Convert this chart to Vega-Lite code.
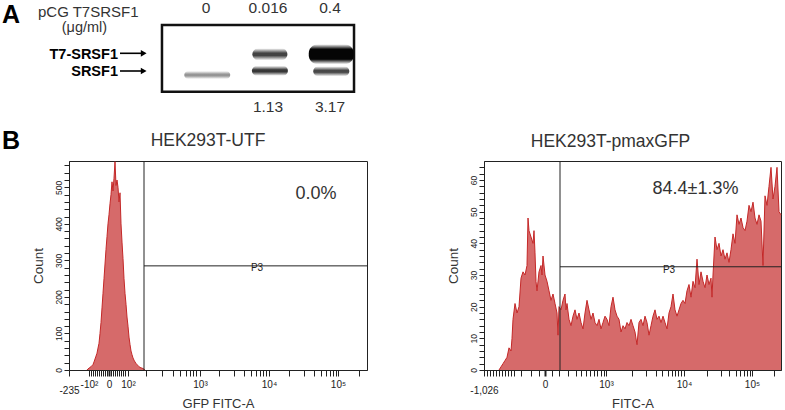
{
  "$schema": "https://vega.github.io/schema/vega-lite/v6.json",
  "background": "white",
  "padding": {"left": 2, "top": 0, "right": 3, "bottom": 0},
  "config": {
    "font": "Liberation Sans",
    "view": {"stroke": null},
    "axis": {"grid": false, "labelFont": "Liberation Sans", "titleFont": "Liberation Sans"},
    "title": {"font": "Liberation Sans"}
  },
  "datasets": {
    "lanes": [
      {"lane": 1, "dose": "0", "ratio": ""},
      {"lane": 2, "dose": "0.016", "ratio": "1.13"},
      {"lane": 3, "dose": "0.4", "ratio": "3.17"}
    ],
    "bands": [
      {"lane": 1.02, "band": "SRSF1", "migration": 75, "signal": 0.45},
      {"lane": 2.03, "band": "T7-SRSF1", "migration": 54.3, "signal": 0.8},
      {"lane": 2.03, "band": "SRSF1", "migration": 70.8, "signal": 0.85},
      {"lane": 3.02, "band": "T7-SRSF1", "migration": 54.2, "signal": 1.0},
      {"lane": 3.02, "band": "SRSF1", "migration": 71.3, "signal": 0.78}
    ],
    "markers": [
      {"band": "T7-SRSF1", "migration": 53.3},
      {"band": "SRSF1", "migration": 71}
    ],
    "utf": [
      {"channel": 18, "count": 0}, {"channel": 19, "count": 3}, {"channel": 20, "count": 5}, {"channel": 21, "count": 7},
      {"channel": 22, "count": 9}, {"channel": 23, "count": 12}, {"channel": 24, "count": 15}, {"channel": 25, "count": 22},
      {"channel": 26, "count": 30}, {"channel": 27, "count": 38}, {"channel": 28, "count": 46}, {"channel": 29, "count": 60},
      {"channel": 30, "count": 73}, {"channel": 31, "count": 100}, {"channel": 32, "count": 130}, {"channel": 33, "count": 170},
      {"channel": 34, "count": 210}, {"channel": 35, "count": 250}, {"channel": 36, "count": 290}, {"channel": 37, "count": 330},
      {"channel": 38, "count": 365}, {"channel": 39, "count": 400}, {"channel": 40, "count": 425}, {"channel": 41, "count": 455},
      {"channel": 42, "count": 480}, {"channel": 43, "count": 515}, {"channel": 44, "count": 490}, {"channel": 45, "count": 525},
      {"channel": 46, "count": 570}, {"channel": 47, "count": 505}, {"channel": 48, "count": 520}, {"channel": 49, "count": 500},
      {"channel": 50, "count": 460}, {"channel": 51, "count": 485}, {"channel": 52, "count": 400}, {"channel": 53, "count": 350},
      {"channel": 54, "count": 305}, {"channel": 55, "count": 250}, {"channel": 56, "count": 210}, {"channel": 57, "count": 180},
      {"channel": 58, "count": 145}, {"channel": 59, "count": 120}, {"channel": 60, "count": 90}, {"channel": 61, "count": 70},
      {"channel": 62, "count": 52}, {"channel": 63, "count": 42}, {"channel": 64, "count": 33}, {"channel": 65, "count": 27},
      {"channel": 66, "count": 22}, {"channel": 67, "count": 18}, {"channel": 68, "count": 15}, {"channel": 69, "count": 12},
      {"channel": 70, "count": 9}, {"channel": 71, "count": 7}, {"channel": 72, "count": 6}, {"channel": 73, "count": 5},
      {"channel": 74, "count": 4}, {"channel": 75, "count": 2}, {"channel": 76, "count": 0}
    ],
    "gfp": [
      {"channel": 15, "count": 0}, {"channel": 17, "count": 1}, {"channel": 19, "count": 2}, {"channel": 21, "count": 3},
      {"channel": 23, "count": 4}, {"channel": 25, "count": 7}, {"channel": 27, "count": 6}, {"channel": 28, "count": 10},
      {"channel": 29, "count": 16}, {"channel": 31, "count": 21}, {"channel": 33, "count": 18}, {"channel": 35, "count": 20},
      {"channel": 37, "count": 29}, {"channel": 39, "count": 31}, {"channel": 41, "count": 30}, {"channel": 43, "count": 33},
      {"channel": 44, "count": 48}, {"channel": 45, "count": 44}, {"channel": 47, "count": 42}, {"channel": 49, "count": 40},
      {"channel": 50, "count": 44}, {"channel": 51, "count": 37}, {"channel": 52, "count": 28}, {"channel": 53, "count": 25},
      {"channel": 55, "count": 31}, {"channel": 57, "count": 33}, {"channel": 58, "count": 30}, {"channel": 59, "count": 36},
      {"channel": 61, "count": 30}, {"channel": 63, "count": 28}, {"channel": 65, "count": 25}, {"channel": 67, "count": 22},
      {"channel": 69, "count": 24}, {"channel": 71, "count": 21}, {"channel": 73, "count": 18}, {"channel": 74, "count": 11},
      {"channel": 75, "count": 20}, {"channel": 77, "count": 19}, {"channel": 79, "count": 22}, {"channel": 81, "count": 24},
      {"channel": 82, "count": 19}, {"channel": 83, "count": 21}, {"channel": 85, "count": 16}, {"channel": 87, "count": 14},
      {"channel": 89, "count": 17}, {"channel": 91, "count": 19}, {"channel": 93, "count": 16}, {"channel": 95, "count": 18},
      {"channel": 97, "count": 15}, {"channel": 99, "count": 13}, {"channel": 101, "count": 18}, {"channel": 103, "count": 22},
      {"channel": 105, "count": 19}, {"channel": 107, "count": 16}, {"channel": 109, "count": 18}, {"channel": 111, "count": 15},
      {"channel": 113, "count": 14}, {"channel": 115, "count": 16}, {"channel": 117, "count": 13}, {"channel": 119, "count": 15},
      {"channel": 121, "count": 17}, {"channel": 123, "count": 16}, {"channel": 125, "count": 14}, {"channel": 127, "count": 20},
      {"channel": 129, "count": 23}, {"channel": 131, "count": 19}, {"channel": 133, "count": 17}, {"channel": 135, "count": 16},
      {"channel": 137, "count": 12}, {"channel": 139, "count": 14}, {"channel": 141, "count": 13}, {"channel": 143, "count": 15},
      {"channel": 145, "count": 14}, {"channel": 147, "count": 16}, {"channel": 149, "count": 14}, {"channel": 151, "count": 12},
      {"channel": 153, "count": 8}, {"channel": 155, "count": 15}, {"channel": 157, "count": 16}, {"channel": 159, "count": 14},
      {"channel": 161, "count": 17}, {"channel": 163, "count": 15}, {"channel": 165, "count": 11}, {"channel": 167, "count": 14},
      {"channel": 169, "count": 17}, {"channel": 171, "count": 19}, {"channel": 173, "count": 16}, {"channel": 175, "count": 17},
      {"channel": 177, "count": 15}, {"channel": 179, "count": 17}, {"channel": 181, "count": 15}, {"channel": 183, "count": 13},
      {"channel": 185, "count": 18}, {"channel": 187, "count": 20}, {"channel": 189, "count": 24}, {"channel": 191, "count": 19},
      {"channel": 193, "count": 17}, {"channel": 195, "count": 19}, {"channel": 197, "count": 21}, {"channel": 199, "count": 22},
      {"channel": 201, "count": 21}, {"channel": 203, "count": 25}, {"channel": 205, "count": 27}, {"channel": 207, "count": 23},
      {"channel": 209, "count": 28}, {"channel": 211, "count": 26}, {"channel": 213, "count": 35}, {"channel": 215, "count": 27},
      {"channel": 217, "count": 31}, {"channel": 219, "count": 28}, {"channel": 221, "count": 26}, {"channel": 223, "count": 30},
      {"channel": 225, "count": 27}, {"channel": 227, "count": 29}, {"channel": 228, "count": 23}, {"channel": 229, "count": 30},
      {"channel": 231, "count": 42}, {"channel": 233, "count": 38}, {"channel": 235, "count": 40}, {"channel": 237, "count": 36},
      {"channel": 239, "count": 38}, {"channel": 241, "count": 35}, {"channel": 243, "count": 37}, {"channel": 245, "count": 34},
      {"channel": 247, "count": 38}, {"channel": 249, "count": 43}, {"channel": 251, "count": 40}, {"channel": 253, "count": 49},
      {"channel": 255, "count": 46}, {"channel": 257, "count": 48}, {"channel": 259, "count": 45}, {"channel": 261, "count": 44},
      {"channel": 263, "count": 47}, {"channel": 265, "count": 52}, {"channel": 267, "count": 50}, {"channel": 269, "count": 53},
      {"channel": 271, "count": 48}, {"channel": 273, "count": 46}, {"channel": 275, "count": 49}, {"channel": 277, "count": 47},
      {"channel": 279, "count": 33}, {"channel": 281, "count": 55}, {"channel": 283, "count": 52}, {"channel": 285, "count": 58},
      {"channel": 287, "count": 64}, {"channel": 289, "count": 54}, {"channel": 291, "count": 58}, {"channel": 293, "count": 64},
      {"channel": 295, "count": 50}, {"channel": 297, "count": 49}
    ]
  },
  "spacing": 11,
  "vconcat": [
    {
      "width": 378,
      "height": 118,
      "layer": [
        {
          "data": {"values": [{}]},
          "mark": {"type": "rect", "filled": false, "color": "#111", "strokeWidth": 2.5},
          "encoding": {
            "x": {"datum": 0.29, "type": "quantitative", "scale": {"domain": [-2.29, 3.806], "nice": false, "zero": false}, "axis": null},
            "x2": {"datum": 3.387},
            "y": {"datum": 25, "type": "quantitative", "scale": {"domain": [0, 118], "reverse": true, "nice": false, "zero": false}, "axis": null},
            "y2": {"datum": 91.7}
          }
        },
        {
          "data": {"name": "bands"},
          "transform": [{"filter": "datum.lane < 1.5"}],
          "mark": {"type": "rect", "width": 46, "height": 8, "cornerRadius": 4,
            "color": {"gradient": "linear", "x1": 0, "y1": 0, "x2": 0, "y2": 1, "stops": [{"offset": 0, "color": "rgba(20,20,20,0)"}, {"offset": 0.4, "color": "#141414"}, {"offset": 0.6, "color": "#141414"}, {"offset": 1, "color": "rgba(20,20,20,0)"}]}},
          "encoding": {
            "x": {"field": "lane", "type": "quantitative", "axis": null},
            "y": {"field": "migration", "type": "quantitative", "axis": null},
            "opacity": {"field": "signal", "type": "quantitative", "scale": {"domain": [0, 1], "range": [0, 1]}, "legend": null}
          }
        },
        {
          "data": {"name": "bands"},
          "transform": [{"filter": "datum.lane > 1.5 && datum.band === 'SRSF1'"}],
          "mark": {"type": "rect", "width": 36, "height": 10, "cornerRadius": 5,
            "color": {"gradient": "linear", "x1": 0, "y1": 0, "x2": 0, "y2": 1, "stops": [{"offset": 0, "color": "rgba(20,20,20,0)"}, {"offset": 0.4, "color": "#141414"}, {"offset": 0.6, "color": "#141414"}, {"offset": 1, "color": "rgba(20,20,20,0)"}]}},
          "encoding": {
            "x": {"field": "lane", "type": "quantitative", "axis": null},
            "y": {"field": "migration", "type": "quantitative", "axis": null},
            "opacity": {"field": "signal", "type": "quantitative", "scale": {"domain": [0, 1], "range": [0, 1]}, "legend": null}
          }
        },
        {
          "data": {"name": "bands"},
          "transform": [{"filter": "datum.lane > 1.5 && datum.lane < 2.5 && datum.band === 'T7-SRSF1'"}],
          "mark": {"type": "rect", "width": 35, "height": 12, "cornerRadius": 6,
            "color": {"gradient": "linear", "x1": 0, "y1": 0, "x2": 0, "y2": 1, "stops": [{"offset": 0, "color": "rgba(20,20,20,0)"}, {"offset": 0.4, "color": "#141414"}, {"offset": 0.6, "color": "#141414"}, {"offset": 1, "color": "rgba(20,20,20,0)"}]}},
          "encoding": {
            "x": {"field": "lane", "type": "quantitative", "axis": null},
            "y": {"field": "migration", "type": "quantitative", "axis": null},
            "opacity": {"field": "signal", "type": "quantitative", "scale": {"domain": [0, 1], "range": [0, 1]}, "legend": null}
          }
        },
        {
          "data": {"name": "bands"},
          "transform": [{"filter": "datum.lane > 2.5 && datum.band === 'T7-SRSF1'"}],
          "mark": {"type": "rect", "width": 45, "height": 20, "cornerRadius": 9,
            "color": {"gradient": "linear", "x1": 0, "y1": 0, "x2": 0, "y2": 1, "stops": [{"offset": 0, "color": "rgba(5,5,5,0)"}, {"offset": 0.25, "color": "#050505"}, {"offset": 0.75, "color": "#050505"}, {"offset": 1, "color": "rgba(5,5,5,0)"}]}},
          "encoding": {
            "x": {"field": "lane", "type": "quantitative", "axis": null},
            "y": {"field": "migration", "type": "quantitative", "axis": null},
            "opacity": {"field": "signal", "type": "quantitative", "scale": {"domain": [0, 1], "range": [0, 1]}, "legend": null}
          }
        },
        {
          "data": {"name": "markers"},
          "mark": {"type": "text", "align": "right", "baseline": "alphabetic", "dy": 5.2, "fontSize": 14.5, "fontWeight": "bold", "color": "#000"},
          "encoding": {
            "x": {"datum": -0.42, "type": "quantitative", "axis": null},
            "y": {"field": "migration", "type": "quantitative", "axis": null},
            "text": {"field": "band"}
          }
        },
        {
          "data": {"name": "markers"},
          "mark": {"type": "rule", "strokeWidth": 1.6, "color": "#000"},
          "encoding": {
            "x": {"datum": -0.387, "type": "quantitative", "axis": null},
            "x2": {"datum": -0.03},
            "y": {"field": "migration", "type": "quantitative", "axis": null}
          }
        },
        {
          "data": {"name": "markers"},
          "mark": {"type": "point", "shape": "triangle-right", "size": 45, "filled": true, "opacity": 1, "color": "#000"},
          "encoding": {
            "x": {"datum": -0.005, "type": "quantitative", "axis": null},
            "y": {"field": "migration", "type": "quantitative", "axis": null}
          }
        },
        {
          "data": {"name": "lanes"},
          "mark": {"type": "text", "align": "center", "baseline": "alphabetic", "fontSize": 15.5, "color": "#333"},
          "encoding": {
            "x": {"field": "lane", "type": "quantitative", "axis": null},
            "y": {"datum": 13, "type": "quantitative", "axis": null},
            "text": {"field": "dose"}
          }
        },
        {
          "data": {"name": "lanes"},
          "mark": {"type": "text", "align": "center", "baseline": "alphabetic", "fontSize": 15.5, "color": "#333"},
          "encoding": {
            "x": {"field": "lane", "type": "quantitative", "axis": null},
            "y": {"datum": 111.7, "type": "quantitative", "axis": null},
            "text": {"field": "ratio"}
          }
        },
        {
          "data": {"values": [{}]},
          "mark": {"type": "text", "text": "A", "align": "left", "baseline": "alphabetic", "fontSize": 25, "fontWeight": "bold", "color": "#000"},
          "encoding": {
            "x": {"datum": -2.29, "type": "quantitative", "axis": null},
            "y": {"datum": 23, "type": "quantitative", "axis": null}
          }
        },
        {
          "data": {"values": [{}]},
          "mark": {"type": "text", "text": "pCG T7SRSF1", "align": "left", "baseline": "alphabetic", "fontSize": 15, "color": "#333"},
          "encoding": {
            "x": {"datum": -1.71, "type": "quantitative", "axis": null},
            "y": {"datum": 16.5, "type": "quantitative", "axis": null}
          }
        },
        {
          "data": {"values": [{}]},
          "mark": {"type": "text", "text": "(μg/ml)", "align": "center", "baseline": "alphabetic", "fontSize": 14.5, "color": "#333"},
          "encoding": {
            "x": {"datum": -0.96, "type": "quantitative", "axis": null},
            "y": {"datum": 32, "type": "quantitative", "axis": null}
          }
        }
      ]
    },
    {
      "spacing": 77,
      "hconcat": [
        {
          "spacing": 8,
          "hconcat": [
            {
              "width": 20,
              "height": 209,
              "title": {"text": "B", "fontSize": 25, "fontWeight": "bold", "color": "#000", "anchor": "start", "frame": "group", "offset": 7},
              "data": {"values": []},
              "mark": "point"
            },
            {
              "width": 298,
              "height": 209,
              "view": {"stroke": "#222", "strokeWidth": 1},
              "title": {"text": "HEK293T-UTF", "fontSize": 17.5, "fontWeight": "normal", "color": "#333", "anchor": "middle", "frame": "group", "dx": -10, "offset": 10},
              "resolve": {"axis": {"x": "independent", "y": "independent"}},
              "layer": [
                {
                  "data": {"name": "utf"},
                  "mark": {"type": "area", "color": "#d66a6a", "opacity": 1, "line": {"color": "#c42828", "strokeWidth": 1}},
                  "encoding": {
                    "x": {
                      "field": "channel", "type": "quantitative",
                      "scale": {"domain": [0, 298], "nice": false, "zero": false},
                      "axis": {
                        "title": "GFP FITC-A", "titleFontSize": 13, "titleFontWeight": "normal", "titleColor": "#333", "titlePadding": 2,
                        "values": [0, 20, 22, 24, 26, 28, 30, 32, 34, 36, 38, 40, 42, 44, 46, 48, 50, 52, 54, 56, 59, 77, 93, 104, 111, 117, 121, 124, 127, 131, 150, 165, 175, 182, 187, 191, 194, 197, 200, 220, 235, 245, 252, 257, 261, 264, 267, 269, 290],
                        "labelExpr": "datum.value === 0 ? '-235' : datum.value === 20 ? '-10²' : datum.value === 40 ? '0' : datum.value === 59 ? '10²' : datum.value === 131 ? '10³' : datum.value === 200 ? '10⁴' : datum.value === 269 ? '10⁵' : ''",
                        "labelFontSize": 10, "labelColor": "#222", "labelOverlap": false, "labelFlush": false, "labelBound": false,
                        "labelPadding": {"condition": {"test": "datum.value === 0", "value": 9}, "value": 3},
                        "tickSize": 6, "tickColor": "#222",
                        "tickWidth": {"condition": {"test": "datum.value === 40", "value": 2}, "value": 1},
                        "domainColor": "#222"
                      }
                    },
                    "y": {
                      "field": "count", "type": "quantitative",
                      "scale": {"domain": [0, 572], "nice": false, "zero": false},
                      "axis": {
                        "title": "Count", "titleFontSize": 13.5, "titleFontWeight": "normal", "titleColor": "#333", "titlePadding": 9,
                        "values": [0, 20, 40, 60, 80, 100, 120, 140, 160, 180, 200, 220, 240, 260, 280, 300, 320, 340, 360, 380, 400, 420, 440, 460, 480, 500, 520, 540, 560],
                        "labelExpr": "datum.value % 100 === 0 ? datum.label : ''",
                        "labelAngle": -90, "labelAlign": "center", "labelBaseline": "bottom",
                        "labelFontSize": 8.5, "labelColor": "#222", "labelPadding": 1, "labelOverlap": false, "labelFlush": false,
                        "tickSize": 5, "tickColor": "#222", "domainColor": "#222"
                      }
                    }
                  }
                },
                {
                  "data": {"values": [{}]},
                  "mark": {"type": "rule", "color": "#222", "strokeWidth": 1},
                  "encoding": {"x": {"datum": 75, "type": "quantitative", "axis": null}}
                },
                {
                  "data": {"values": [{}]},
                  "mark": {"type": "rule", "color": "#222", "strokeWidth": 1},
                  "encoding": {
                    "x": {"datum": 75, "type": "quantitative", "axis": null},
                    "x2": {"datum": 298},
                    "y": {"datum": 285, "type": "quantitative", "axis": null}
                  }
                },
                {
                  "data": {"values": [{}]},
                  "mark": {"type": "text", "text": "P3", "fontSize": 10, "color": "#222", "align": "center", "baseline": "middle"},
                  "encoding": {
                    "x": {"datum": 188, "type": "quantitative", "axis": null},
                    "y": {"datum": 280, "type": "quantitative", "axis": null}
                  }
                },
                {
                  "data": {"values": [{}]},
                  "mark": {"type": "text", "text": "0.0%", "fontSize": 18, "color": "#333", "align": "center", "baseline": "middle"},
                  "encoding": {
                    "x": {"datum": 247, "type": "quantitative", "axis": null},
                    "y": {"datum": 483, "type": "quantitative", "axis": null}
                  }
                }
              ]
            }
          ]
        },
        {
          "width": 297,
          "height": 209,
          "view": {"stroke": "#222", "strokeWidth": 1},
          "title": {"text": "HEK293T-pmaxGFP", "fontSize": 17.5, "fontWeight": "normal", "color": "#333", "anchor": "middle", "frame": "group", "dx": -22, "offset": 10},
          "resolve": {"axis": {"x": "independent", "y": "independent"}},
          "layer": [
            {
              "data": {"name": "gfp"},
              "mark": {"type": "area", "color": "#d66a6a", "opacity": 1, "line": {"color": "#c42828", "strokeWidth": 1}},
              "encoding": {
                "x": {
                  "field": "channel", "type": "quantitative",
                  "scale": {"domain": [0, 297], "nice": false, "zero": false},
                  "axis": {
                    "title": "FITC-A", "titleFontSize": 13, "titleFontWeight": "normal", "titleColor": "#333", "titlePadding": 2,
                    "values": [0, 3, 6, 9, 12, 15, 18, 21, 24, 27, 30, 37, 47, 55, 61, 68, 75, 84, 92, 97, 102, 106, 110, 113, 117, 120, 122, 148, 162, 172, 178, 184, 188, 191, 194, 197, 200, 223, 237, 245, 252, 256, 260, 263, 266, 268, 290],
                    "labelExpr": "datum.value === 0 ? '-1,026' : datum.value === 61 ? '0' : datum.value === 122 ? '10³' : datum.value === 200 ? '10⁴' : datum.value === 268 ? '10⁵' : ''",
                    "labelFontSize": 10, "labelColor": "#222", "labelOverlap": false, "labelFlush": false, "labelBound": false,
                    "labelPadding": {"condition": {"test": "datum.value === 0", "value": 9}, "value": 3},
                    "tickSize": 6, "tickColor": "#222",
                    "tickWidth": {"condition": {"test": "datum.value === 61", "value": 2}, "value": 1},
                    "domainColor": "#222"
                  }
                },
                "y": {
                  "field": "count", "type": "quantitative",
                  "scale": {"domain": [0, 66], "nice": false, "zero": false},
                  "axis": {
                    "title": "Count", "titleFontSize": 13.5, "titleFontWeight": "normal", "titleColor": "#333", "titlePadding": 9,
                    "values": [0, 2, 4, 6, 8, 10, 12, 14, 16, 18, 20, 22, 24, 26, 28, 30, 32, 34, 36, 38, 40, 42, 44, 46, 48, 50, 52, 54, 56, 58, 60, 62, 64],
                    "labelExpr": "datum.value % 10 === 0 ? datum.label : ''",
                    "labelAngle": -90, "labelAlign": "center", "labelBaseline": "bottom",
                    "labelFontSize": 8.5, "labelColor": "#222", "labelPadding": 1, "labelOverlap": false, "labelFlush": false,
                    "tickSize": 5, "tickColor": "#222", "domainColor": "#222"
                  }
                }
              }
            },
            {
              "data": {"values": [{}]},
              "mark": {"type": "rule", "color": "#222", "strokeWidth": 1},
              "encoding": {"x": {"datum": 76, "type": "quantitative", "axis": null}}
            },
            {
              "data": {"values": [{}]},
              "mark": {"type": "rule", "color": "#222", "strokeWidth": 1},
              "encoding": {
                "x": {"datum": 76, "type": "quantitative", "axis": null},
                "x2": {"datum": 297},
                "y": {"datum": 32.6, "type": "quantitative", "axis": null}
              }
            },
            {
              "data": {"values": [{}]},
              "mark": {"type": "text", "text": "P3", "fontSize": 10, "color": "#222", "align": "center", "baseline": "middle"},
              "encoding": {
                "x": {"datum": 185, "type": "quantitative", "axis": null},
                "y": {"datum": 31.7, "type": "quantitative", "axis": null}
              }
            },
            {
              "data": {"values": [{}]},
              "mark": {"type": "text", "text": "84.4±1.3%", "fontSize": 18, "color": "#333", "align": "center", "baseline": "middle"},
              "encoding": {
                "x": {"datum": 211.5, "type": "quantitative", "axis": null},
                "y": {"datum": 57.1, "type": "quantitative", "axis": null}
              }
            }
          ]
        }
      ]
    }
  ]
}
